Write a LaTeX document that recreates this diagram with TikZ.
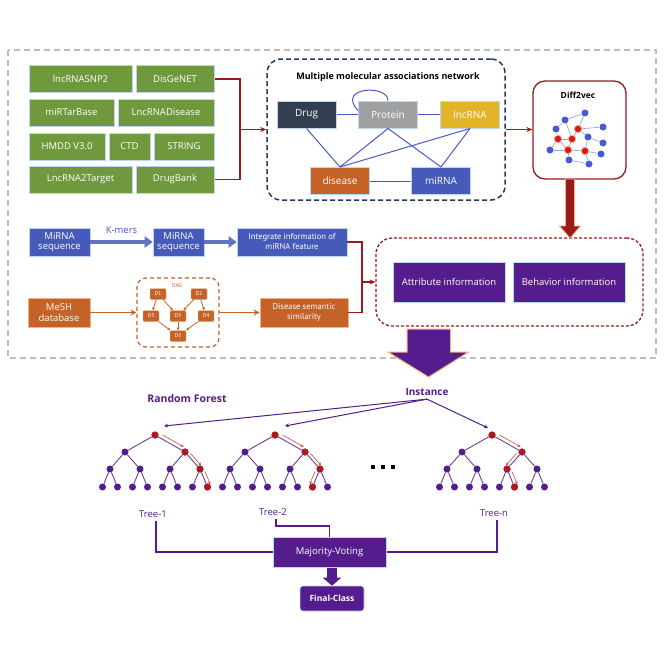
\documentclass[tikz,border=0pt]{standalone}
\usepackage{fontspec}
\setmainfont{Open Sans}
\newfontfamily\narrowfont{PT Sans}
\usepackage{tikz}
\usetikzlibrary{positioning, arrows.meta, calc}
\definecolor{srcgreen}{RGB}{112,153,61}
\definecolor{paleblue}{RGB}{189,215,238}
\definecolor{darkred}{RGB}{155,27,27}
\definecolor{navy}{RGB}{31,56,100}
\definecolor{drugcol}{RGB}{51,63,80}
\definecolor{protcol}{RGB}{160,160,160}
\definecolor{lnccol}{RGB}{228,180,40}
\definecolor{discol}{RGB}{197,98,40}
\definecolor{mircol}{RGB}{72,90,185}
\definecolor{edgeblue}{RGB}{72,90,200}
\definecolor{rfpurple}{RGB}{84,28,140}
\definecolor{peach}{RGB}{244,177,131}
\definecolor{treered}{RGB}{175,25,25}
\definecolor{hopred}{RGB}{210,80,50}
\definecolor{dashgray}{RGB}{190,190,190}
\definecolor{dotblue}{RGB}{70,90,210}
\definecolor{dotred}{RGB}{215,25,25}

\newcommand{\rftree}[2]{%
  \node[treedot] (#2r) at (#1,435) {};
  \foreach \i in {0,1} \node[treedot] (#2a\i) at ({#1-30+60*\i},452) {};
  \foreach \i in {0,...,3} \node[treedot] (#2b\i) at ({#1-45+30*\i},469) {};
  \foreach \i in {0,...,7} \node[treedot] (#2c\i) at ({#1-52.5+15*\i},487) {};
  \foreach \i in {0,1} \draw[treeedge] (#2r) -- (#2a\i);
  \foreach \i/\p in {0/0,1/0,2/1,3/1} \draw[treeedge] (#2a\p) -- (#2b\i);
  \foreach \i/\p in {0/0,1/0,2/1,3/1,4/2,5/2,6/3,7/3} \draw[treeedge] (#2b\p) -- (#2c\i);
}
\newcommand{\hop}[3]{\draw[hoparrow] ($(#1)!0.2!(#2)+#3$) -- ($(#1)!0.9!(#2)+#3$);}

\begin{document}
\begin{tikzpicture}[x=1pt, y=-1pt,
    srcbox/.style={fill=srcgreen, draw=paleblue, line width=1pt, minimum height=27, inner sep=0, text=white, font=\fontsize{9.5}{11}\selectfont},
    netnode/.style={draw=paleblue, line width=1pt, minimum width=59, minimum height=27, inner sep=0, text=white, font=\fontsize{10}{12}\selectfont},
    netedge/.style={draw=edgeblue, line width=1pt},
    redline/.style={draw=darkred, line width=1.5pt},
    redarr/.style={redline, -{Stealth[length=6pt, width=5pt]}},
    seqbox/.style={fill=mircol, draw=paleblue, line width=0.6pt, minimum height=28, inner sep=0, text=white, align=center, font=\fontsize{9.5}{10.5}\selectfont},
    seqarr/.style={draw=mircol!85, line width=3.5pt, -{Triangle[length=8pt, width=11pt]}},
    meshbox/.style={fill=discol, draw=peach, line width=0.6pt, minimum height=29, inner sep=0, text=white, align=center},
    dagnode/.style={fill=discol, draw=peach, line width=0.4pt, minimum width=16, minimum height=11, inner sep=0, rounded corners=1pt, text=white, font=\narrowfont\fontsize{5.5}{6}\selectfont},
    dagedge/.style={draw=discol, line width=0.8pt, -{Stealth[length=3pt, width=3pt]}},
    orarr/.style={draw=discol, line width=1.6pt, -{Stealth[length=6pt, width=6pt]}},
    infobox/.style={fill=rfpurple, draw=paleblue, line width=1pt, minimum width=112, minimum height=40, inner sep=0, text=white, font=\fontsize{9.5}{11}\selectfont},
    gdot/.style={circle, fill=dotblue, inner sep=0, minimum size=7},
    rdot/.style={circle, fill=dotred, draw=peach, line width=0.8pt, inner sep=0, minimum size=7.5},
    gedge/.style={draw=edgeblue!60, line width=0.6pt},
    treedot/.style={circle, fill=rfpurple, inner sep=0, minimum size=7},
    reddot/.style={circle, fill=treered, inner sep=0, minimum size=7},
    treeedge/.style={draw=rfpurple!85, line width=0.9pt},
    hoparrow/.style={draw=hopred, line width=0.6pt, -{Stealth[length=3pt, width=3pt]}},
    instarr/.style={draw=rfpurple, line width=1pt, -{Stealth[length=4pt, width=4pt]}},
    voteline/.style={draw=rfpurple, line width=1.2pt},
    purlabel/.style={text=rfpurple, font=\fontsize{9.5}{11}\selectfont}
]
\useasboundingbox (0,0) rectangle (664,664);
\fill[white] (0,0) rectangle (664,664);

\draw[dashgray, line width=2pt, dash pattern=on 6pt off 4pt] (8,50) rectangle (656,358);

\node[srcbox, minimum width=103] (snp) at (80.5,79) {lncRNASNP2};
\node[srcbox, minimum width=78] (disgenet) at (175,79) {DisGeNET};
\node[srcbox, minimum width=85] (mirtar) at (71.5,112.5) {miRTarBase};
\node[srcbox, minimum width=96] (lncdis) at (166,112.5) {LncRNADisease};
\node[srcbox, minimum width=76] (hmdd) at (67,146.5) {HMDD V3.0};
\node[srcbox, minimum width=41] (ctd) at (129.5,146.5) {CTD};
\node[srcbox, minimum width=60] (stringdb) at (184,146.5) {STRING};
\node[srcbox, minimum width=103] (l2t) at (80.5,179.5) {LncRNA2Target};
\node[srcbox, minimum width=78] (drugbank) at (175,179.5) {DrugBank};

\node[draw=navy, line width=1.5pt, dash pattern=on 5pt off 3pt, rounded corners=14pt, minimum width=238, minimum height=141] (net) at (386,129.5) {};
\node[font=\bfseries\fontsize{9}{11}\selectfont] (nettitle) at (388,77) {Multiple molecular associations network};
\node[netnode, fill=drugcol] (drug) at (306.5,114.5) {Drug};
\node[netnode, fill=protcol] (protein) at (388,114.5) {Protein};
\node[netnode, fill=lnccol] (lnc) at (470,114.5) {lncRNA};
\node[netnode, fill=discol] (disease) at (340,181) {disease};
\node[netnode, fill=mircol] (mirna) at (441,181) {miRNA};
\draw[netedge] (drug) -- (protein);
\draw[netedge] (protein) -- (lnc);
\draw[netedge] (disease) -- (mirna);
\draw[netedge] (drug.south) -- (disease.north);
\draw[netedge] (protein.south) -- (disease.north);
\draw[netedge] (protein.south) -- (mirna.north);
\draw[netedge] (lnc.south) -- (disease.north);
\draw[netedge] (lnc.south) -- (mirna.north);
\draw[netedge] ($(protein.west)+(0,-4)$) .. controls +(-22,-24) and +(0,-16) .. (protein.north);

\coordinate (brk) at (240,129.5);
\draw[redline] (disgenet.east) -| (brk);
\draw[redline] (drugbank.east) -| (brk);
\draw[redarr] (brk) -- (net.west);

\node[draw=darkred, line width=1.3pt, rounded corners=12pt, fill=white, minimum width=93, minimum height=98] (d2v) at (579.5,130) {};
\node[font=\bfseries\fontsize{8.5}{10}\selectfont] (d2vtitle) at (578,95) {Diff2vec};
\draw[redarr] (net.east |- brk) -- (d2v.west |- brk);
\foreach \n/\x/\y in {b1/565/120, b2/585/113, b3/556/129, b4/603/127, b5/588/137, b6/603/143, b7/550/150, b8/601/154, b9/569/160, b10/589/164}
  \node[gdot] (\n) at (\x,\y) {};
\foreach \n/\x/\y in {r1/578/129, r2/558/139, r3/572/139, r4/568/150, r5/585/151}
  \node[rdot] (\n) at (\x,\y) {};
\foreach \a/\b in {b1/b2, b1/b3, b1/r3, b2/r1, r1/b4, r1/r3, r1/b5, b5/b6, b5/r5, b3/r2, r2/r3, r2/r4, r2/b7, r3/r4, r4/b9, r4/r5, r5/b8, r5/b10, b9/b10, b7/r4}
  \draw[gedge] (\a) -- (\b);

\node[draw=darkred, line width=1.3pt, dash pattern=on 3pt off 2pt, rounded corners=16pt, minimum width=267, minimum height=88] (info) at (509.5,282) {};
\node[infobox] (attr) at (449,282) {Attribute information};
\node[infobox] (behav) at (569,282) {Behavior information};

\coordinate (d2vout) at (570,179);
\filldraw[fill=darkred, draw=peach, line width=0.8pt] (d2vout) ++(-4.5,0) -- ++(0,47) -- ++(-6,0) -- ++(10.5,12) -- ++(10.5,-12) -- ++(-6,0) -- ++(0,-47) -- cycle;

\node[seqbox, minimum width=61] (seqa) at (59.5,242) {MiRNA\\sequence};
\node[seqbox, minimum width=51] (seqb) at (178.5,242) {MiRNA\\sequence};
\node[seqbox, minimum width=110, font=\narrowfont\fontsize{8.5}{10}\selectfont] (integ) at (292,242) {Integrate information of\\miRNA feature};
\draw[seqarr] (seqa) -- node[above=3pt, text=mircol, font=\fontsize{9.5}{11}\selectfont] {K-mers} (seqb);
\draw[seqarr] (seqb) -- (integ);

\node[meshbox, minimum width=62, font=\fontsize{9.5}{10.5}\selectfont] (mesh) at (59,312.5) {MeSH\\database};
\node[draw=discol, line width=1.2pt, dash pattern=on 4pt off 3pt, rounded corners=9pt, minimum width=82, minimum height=69] (dag) at (178,312.5) {};
\node[text=discol, font=\narrowfont\fontsize{5.5}{6}\selectfont] (daglabel) at (177,286) {DAG};
\node[dagnode] (d1) at (158,294) {D1};
\node[dagnode] (d2) at (199,294) {D2};
\node[dagnode] (d3) at (151,316) {D3};
\node[dagnode] (d5a) at (178,316) {D5};
\node[dagnode] (d4) at (206,316) {D4};
\node[dagnode] (d5b) at (178,336) {D5};
\draw[dagedge] (d1) -- (d3);
\draw[dagedge] (d1) -- (d5a);
\draw[dagedge] (d2) -- (d5a);
\draw[dagedge] (d2) -- (d4);
\draw[dagedge] (d3) -- (d5b);
\draw[dagedge] (d5a) -- (d5b);
\draw[dagedge] (d4) -- (d5b);
\node[meshbox, minimum width=88, font=\narrowfont\fontsize{8.5}{10}\selectfont] (dsim) at (304,312.5) {Disease semantic\\similarity};
\draw[orarr] (mesh) -- (dag);
\draw[orarr] (dag) -- (dsim);

\coordinate (join) at (362,282);
\draw[redline] (integ.east) -| (join);
\draw[redline] (dsim.east) -| (join);
\draw[redarr] (join) -- (info.west |- join);

\coordinate (bigtop) at (428.5,329);
\filldraw[fill=rfpurple, draw=peach, line width=1pt] (bigtop) ++(-21.5,0) -- ++(0,23) -- ++(-19,0) -- ++(40.5,25) -- ++(40,-25) -- ++(-18,0) -- ++(0,-23) -- cycle;

\node[text=rfpurple, font=\bfseries\fontsize{10}{12}\selectfont] (inst) at (427,392) {Instance};
\node[text=rfpurple, font=\bfseries\fontsize{10.5}{12}\selectfont] (rf) at (187,399) {Random Forest};

\rftree{155}{ta}
\rftree{275}{tb}
\rftree{492}{tn}
\foreach \n in {tar, taa1, tab3, tac7, tbr, tba1, tbb3, tbc6, tnr, tna1, tnb2, tnc5}
  \node[reddot] at (\n) {};
\hop{tar}{taa1}{(1.5,-3.5)}
\hop{taa1}{tab3}{(2.5,-2)}
\hop{tab3}{tac7}{(3.5,-1)}
\hop{tbr}{tba1}{(1.5,-3.5)}
\hop{tba1}{tbb3}{(2.5,-2)}
\hop{tbb3}{tbc6}{(-3.5,-1)}
\hop{tnr}{tna1}{(1.5,-3.5)}
\hop{tna1}{tnb2}{(-2.5,-2)}
\hop{tnb2}{tnc5}{(3.5,-1)}

\draw[instarr] (inst.south) -- ($(tar)+(9,-9)$);
\draw[instarr] (inst.south) -- ($(tbr)+(10,-9)$);
\draw[instarr] (inst.south) -- ($(tnr)+(-4,-7)$);

\foreach \x in {373,383,393}
  \fill[black] (\x-1.7,465.3) rectangle (\x+1.7,468.7);

\node[purlabel] (lab1) at (153,514) {Tree-1};
\node[purlabel] (lab2) at (273,512) {Tree-2};
\node[purlabel] (labn) at (494,513) {Tree-n};

\node[fill=rfpurple, draw=paleblue, line width=1pt, minimum width=113, minimum height=30, inner sep=0, text=white, font=\fontsize{9.5}{11}\selectfont] (vote) at (329.5,552) {Majority-Voting};
\node[fill=rfpurple, draw=paleblue, line width=0.6pt, rounded corners=3pt, minimum width=64, minimum height=25, inner sep=0, text=white, font=\bfseries\fontsize{8.5}{10}\selectfont] (final) at (332,598.5) {Final-Class};
\draw[voteline] (lab1.south -| 156,0) |- (vote.west);
\draw[voteline] (labn.south -| 497,0) |- (vote.east);
\draw[voteline] (lab2.south -| 276,0) -- ++(0,7) -| (vote.north);
\draw[draw=rfpurple, line width=10pt, -{Triangle[length=8pt, width=18pt]}] (vote.south -| final.north) -- (final.north);

\end{tikzpicture}
\end{document}
